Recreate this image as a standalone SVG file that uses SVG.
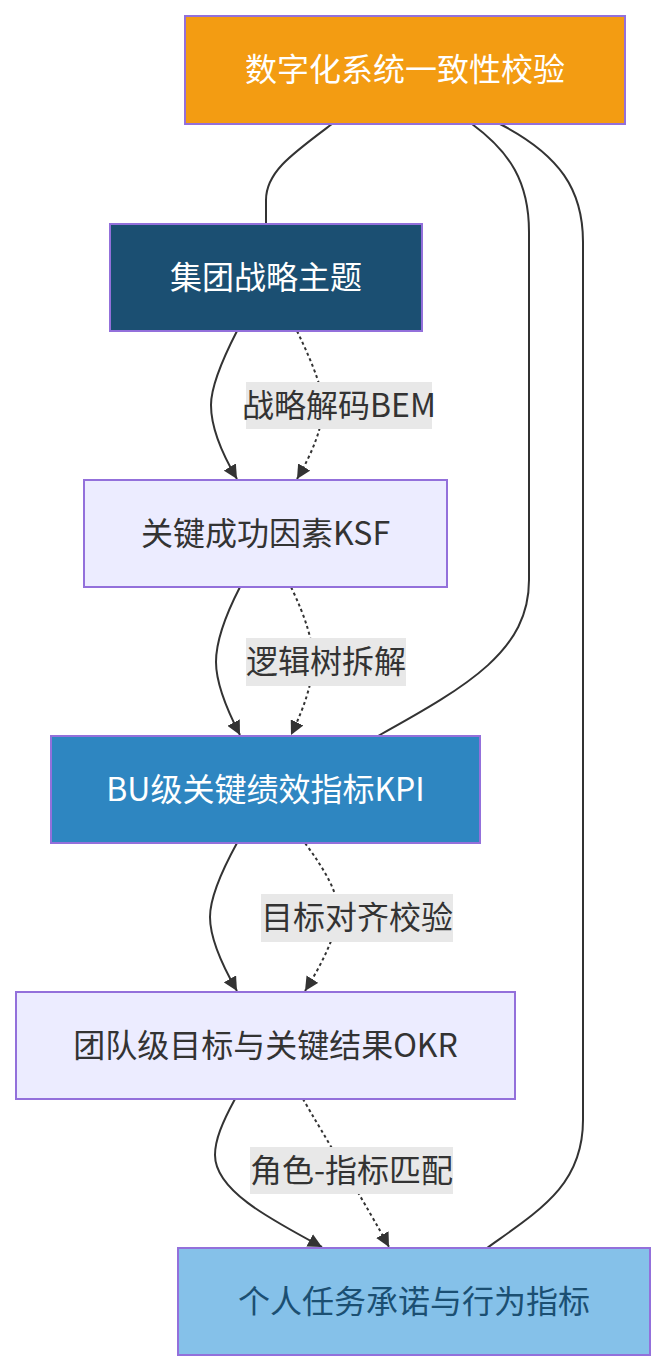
<svg xmlns="http://www.w3.org/2000/svg" width="666" height="1372" viewBox="0 0 666 1372">
<style>
  .node rect { stroke: #9370DB; stroke-width: 2; }
  .node text { font-family: "Noto Sans CJK SC", "Noto Sans", sans-serif; font-size: 32px; text-anchor: middle; }
  .edge { fill: none; stroke: #333333; stroke-width: 2; }
  .dotted { stroke-dasharray: 3 3; }
  .lbl rect { fill: #e8e8e8; }
  .lbl text { font-family: "Noto Sans CJK SC", "Noto Sans", sans-serif; font-size: 32px; text-anchor: middle; fill: #333333; }
</style>
<defs>
  <marker id="arrow" viewBox="0 0 10 10" refX="10" refY="5" markerUnits="userSpaceOnUse" markerWidth="14" markerHeight="14" orient="auto">
    <path d="M0,0 L10,5 L0,10 z" fill="#333333"/>
  </marker>
</defs>
<rect width="666" height="1372" fill="#ffffff"/>
<g id="connectors">
  <path class="edge" d="M332,124 C292,154 266,172 266,200 L266,224"/>
  <path class="edge" d="M472,124 C510,152 529,182 529,232 L529,580 C529,650 470,685 378,736"/>
  <path class="edge" d="M500,124 C560,155 583,190 583,242 L583,1120 C583,1185 540,1210 487,1248"/>
  <path class="edge" d="M237,331 C218,368 211,392 211,405 C211,426 221,452 237,479" marker-end="url(#arrow)"/>
  <path class="edge dotted" d="M297,331 C315,368 323,392 323,405 C323,426 313,452 297,479" marker-end="url(#arrow)"/>
  <path class="edge" d="M240,587 C223,620 216,645 216,662 C216,682 226,708 240,735" marker-end="url(#arrow)"/>
  <path class="edge dotted" d="M291,587 C306,618 313,642 313,660 C313,682 304,708 291,735" marker-end="url(#arrow)"/>
  <path class="edge" d="M237,843 C220,874 210,900 210,917 C210,937 222,965 237,991" marker-end="url(#arrow)"/>
  <path class="edge dotted" d="M305,843 C325,870 338,893 338,910 C338,932 322,964 305,991" marker-end="url(#arrow)"/>
  <path class="edge" d="M235,1099 C222,1123 215,1140 215,1155 C215,1190 268,1218 322,1247" marker-end="url(#arrow)"/>
  <path class="edge dotted" d="M303,1099 C322,1132 368,1208 389,1247" marker-end="url(#arrow)"/>
</g>
<g id="label-bem" class="lbl">
  <rect x="246" y="382" width="186" height="47"/>
  <text x="339" y="417">战略解码BEM</text>
</g>
<g id="label-tree" class="lbl">
  <rect x="246" y="638" width="160" height="48"/>
  <text x="326" y="673">逻辑树拆解</text>
</g>
<g id="label-align" class="lbl">
  <rect x="261" y="894" width="192" height="48"/>
  <text x="357" y="929">目标对齐校验</text>
</g>
<g id="label-role" class="lbl">
  <rect x="250" y="1147" width="203" height="47"/>
  <text x="351.5" y="1182">角色-指标匹配</text>
</g>
<g id="node-check" class="node">
  <rect x="185" y="16" width="440" height="108" fill="#F39C12"/>
  <text x="405" y="81" fill="#ffffff">数字化系统一致性校验</text>
</g>
<g id="node-strategy" class="node">
  <rect x="110" y="224" width="312" height="107" fill="#1B4F72"/>
  <text x="266" y="289" fill="#ffffff">集团战略主题</text>
</g>
<g id="node-ksf" class="node">
  <rect x="84" y="480" width="363" height="107" fill="#ECECFF"/>
  <text x="265.5" y="545" fill="#333333">关键成功因素KSF</text>
</g>
<g id="node-kpi" class="node">
  <rect x="51" y="736" width="429" height="107" fill="#2E86C1"/>
  <text x="265.5" y="801" fill="#ffffff">BU级关键绩效指标KPI</text>
</g>
<g id="node-okr" class="node">
  <rect x="16" y="992" width="499" height="107" fill="#ECECFF"/>
  <text x="265.5" y="1057" fill="#333333">团队级目标与关键结果OKR</text>
</g>
<g id="node-personal" class="node">
  <rect x="178" y="1248" width="472" height="107" fill="#85C1E9"/>
  <text x="414" y="1313" fill="#1B4F72">个人任务承诺与行为指标</text>
</g>
</svg>
